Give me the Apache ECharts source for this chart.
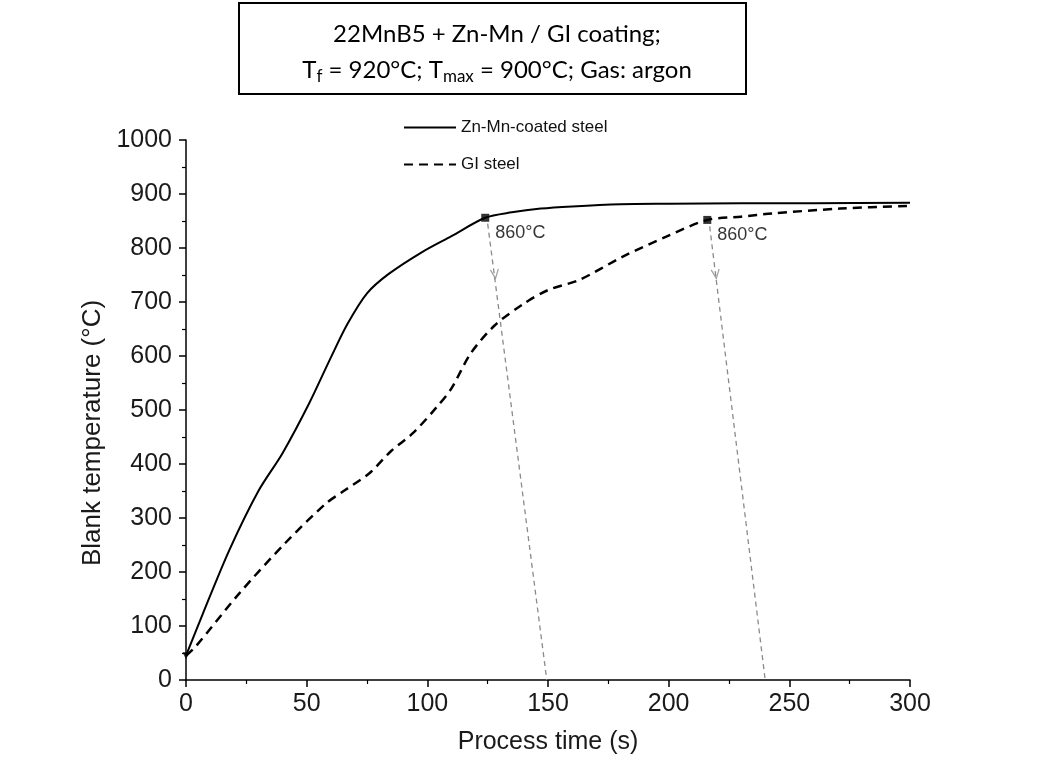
<!DOCTYPE html>
<html>
<head>
<meta charset="utf-8">
<script src="https://cdn.jsdelivr.net/npm/echarts@6/dist/echarts.min.js"></script>
<style>
html,body{margin:0;padding:0;background:#fff;}
#chart{width:1054px;height:772px;}
</style>
</head>
<body>
<div id="chart"></div>
<script>
// ---- data ----
const znTime = [0, 7, 18, 30, 40, 51, 60, 67, 75, 84, 98, 110, 124, 135, 147, 160, 180, 200, 230, 260, 300];
const znTemp = [45, 123, 241, 350, 420, 512, 597, 660, 716, 752, 793, 822, 856, 866, 873, 877, 881, 882, 883, 883, 884];

const giTime = [0, 4, 22, 41, 58, 65, 76, 85, 94, 104, 110, 118, 128, 140, 150, 163, 181, 199, 216, 230, 243, 271, 300];
const giTemp = [45, 62, 160, 253, 327, 349, 383, 424, 457, 506, 540, 605, 657, 697, 722, 741, 784, 821, 852, 858, 864, 873, 878];

const markTime = [124, 216];
const markTemp = [856, 852];
const markLabel = ['860°C', '860°C'];

const arrowA = [[125, 845], [149.5, 0]];
const arrowB = [[217, 840], [240, 0]];
const arrowHeads = [[128, 752], [219.5, 752]];

const startPoint = [[0, 45]];

const xTicks = [0, 50, 100, 150, 200, 250, 300];
const yTicks = [0, 100, 200, 300, 400, 500, 600, 700, 800, 900, 1000];

const seriesNames = ['Zn-Mn-coated steel', 'GI steel'];
const xName = 'Process time (s)';
const yName = 'Blank temperature (°C)';
const titleLine1 = '22MnB5 + Zn-Mn / GI coating;';
const titleLine2 = 'T{sub|f} = 920°C; T{sub|max} = 900°C; Gas: argon';

// ---- build ----
const zip = (a, b) => a.map((v, i) => [v, b[i]]);
const axisFont = 'Liberation Sans, Arial, sans-serif';

const chart = echarts.init(document.getElementById('chart'), null, {renderer: 'canvas'});
chart.setOption({
  backgroundColor: '#ffffff',
  animation: false,
  graphic: [{
    type: 'rect',
    z: 0,
    shape: {x: 239, y: 3, width: 507, height: 91},
    style: {fill: '#ffffff', stroke: '#000000', lineWidth: 2}
  }],
  title: {
    text: titleLine1 + '\n' + titleLine2,
    left: 492,
    top: 11,
    textAlign: 'center',
    z: 10,
    textStyle: {
      fontFamily: 'Lato, Noto Sans, sans-serif',
      fontSize: 24,
      fontWeight: 'normal',
      color: '#000',
      lineHeight: 36,
      rich: {
        sub: {fontFamily: 'Lato, Noto Sans, sans-serif', fontSize: 17, color: '#000', padding: [14, 0, 0, 0], lineHeight: 36}
      }
    }
  },
  legend: {
    orient: 'vertical',
    left: 398,
    top: 114,
    itemWidth: 52,
    itemHeight: 14,
    itemGap: 20,
    data: seriesNames,
    itemStyle: {color: 'rgba(0,0,0,0)', borderWidth: 0},
    textStyle: {fontFamily: axisFont, fontSize: 17, color: '#111'}
  },
  grid: {left: 186, right: 144, top: 140, bottom: 92, containLabel: false},
  xAxis: {
    type: 'value',
    min: xTicks[0],
    max: xTicks[xTicks.length - 1],
    interval: xTicks[1] - xTicks[0],
    name: xName,
    nameLocation: 'middle',
    nameGap: 50,
    nameTextStyle: {fontFamily: axisFont, fontSize: 25, color: '#1a1a1a'},
    axisLine: {show: true, lineStyle: {color: '#000', width: 1.5}},
    axisTick: {show: true, inside: false, length: 7, lineStyle: {color: '#000', width: 1.5}},
    minorTick: {show: true, splitNumber: 2, length: 4, lineStyle: {color: '#000', width: 1.2}},
    splitLine: {show: false},
    axisLabel: {fontFamily: axisFont, fontSize: 25, color: '#1a1a1a', margin: 12, formatter: v => String(v)}
  },
  yAxis: {
    type: 'value',
    min: yTicks[0],
    max: yTicks[yTicks.length - 1],
    interval: yTicks[1] - yTicks[0],
    name: yName,
    nameLocation: 'middle',
    nameGap: 80,
    nameTextStyle: {fontFamily: axisFont, fontSize: 26, color: '#1a1a1a', padding: [0, 46, 0, 0]},
    axisLine: {show: true, lineStyle: {color: '#000', width: 1.5}},
    axisTick: {show: true, inside: false, length: 7, lineStyle: {color: '#000', width: 1.5}},
    minorTick: {show: true, splitNumber: 2, length: 4, lineStyle: {color: '#000', width: 1.2}},
    splitLine: {show: false},
    axisLabel: {fontFamily: axisFont, fontSize: 25, color: '#1a1a1a', margin: 14, formatter: v => String(v)}
  },
  series: [
    {
      name: seriesNames[0],
      type: 'line',
      data: zip(znTime, znTemp),
      smooth: 0.3,
      symbol: 'none',
      lineStyle: {color: '#000', width: 2},
      itemStyle: {color: '#000'},
      z: 5
    },
    {
      name: seriesNames[1],
      type: 'line',
      data: zip(giTime, giTemp),
      smooth: 0.3,
      symbol: 'none',
      lineStyle: {color: '#000', width: 2.5, type: [9, 6]},
      itemStyle: {color: '#000'},
      z: 5
    },
    {
      name: 'arrowA',
      type: 'line',
      data: arrowA,
      symbol: 'none',
      lineStyle: {color: '#8a8a8a', width: 1.3, type: [5, 4]},
      z: 3,
      silent: true
    },
    {
      name: 'arrowB',
      type: 'line',
      data: arrowB,
      symbol: 'none',
      lineStyle: {color: '#8a8a8a', width: 1.3, type: [5, 4]},
      z: 3,
      silent: true
    },
    {
      name: 'heads',
      type: 'scatter',
      data: arrowHeads,
      symbol: 'path://M0,0 L5,9 L10,0',
      symbolSize: [8, 9],
      symbolRotate: 7,
      itemStyle: {color: 'rgba(0,0,0,0)', borderColor: '#8a8a8a', borderWidth: 1.3},
      z: 3,
      silent: true
    },
    {
      name: 'marks',
      type: 'scatter',
      data: markTime.map((t, i) => ({value: [t, markTemp[i]], label: {formatter: markLabel[i]}})),
      symbol: 'rect',
      symbolSize: 8,
      itemStyle: {color: '#000'},
      label: {
        show: true,
        position: [14, 10],
        fontFamily: axisFont,
        fontSize: 18,
        color: '#000'
      },
      z: 6
    },
    {
      name: 'start',
      type: 'scatter',
      data: startPoint,
      symbol: 'triangle',
      symbolRotate: 180,
      symbolSize: 7,
      itemStyle: {color: '#000'},
      z: 6
    }
  ]
});
</script>
</body>
</html>
